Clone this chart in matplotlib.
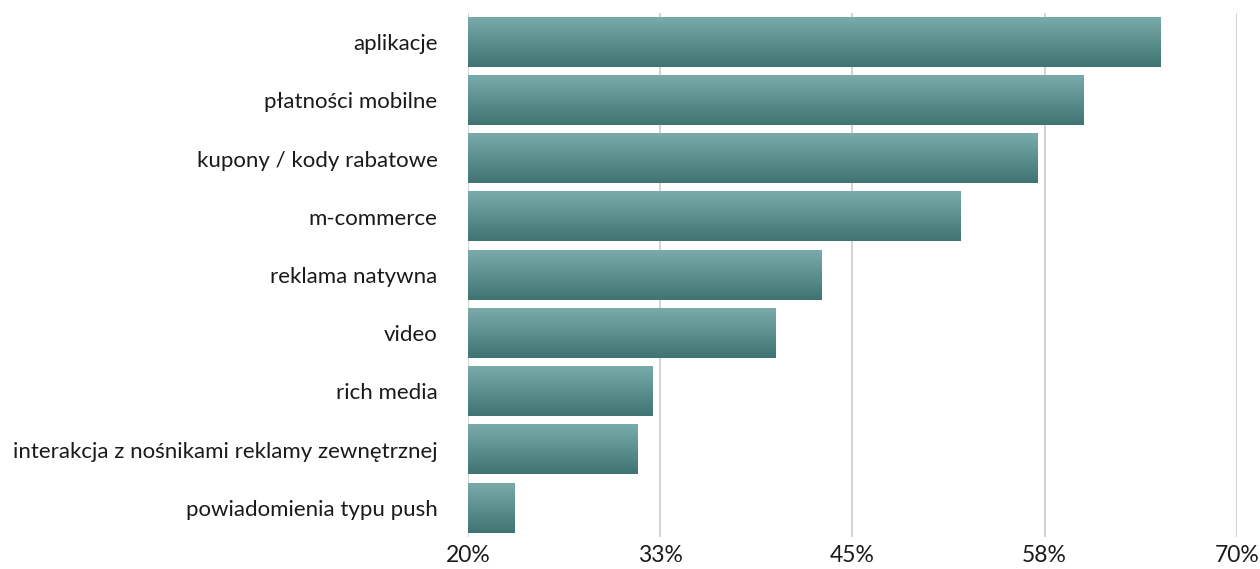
import numpy as np
import matplotlib.pyplot as plt
from matplotlib.colors import LinearSegmentedColormap

# kanały / formaty mobilne i odsetek wskazań
kategorie = ["aplikacje", "płatności mobilne", "kupony / kody rabatowe", "m-commerce",
             "reklama natywna", "video", "rich media",
             "interakcja z nośnikami reklamy zewnętrznej", "powiadomienia typu push"]
wartosci = [65, 60, 57, 52, 43, 40, 32, 31, 23]
ticki = [20, 32.5, 45, 57.5, 70]
etykiety_tickow = ["20%", "33%", "45%", "58%", "70%"]

plt.rcParams['font.family'] = ['Lato', 'DejaVu Sans']

fig = plt.figure(figsize=(12.6, 5.69), dpi=100)
ax = fig.add_axes([0.3714, 0.0562, 0.6103, 0.9208])

# gradient od jasnego (góra) do ciemnego (dół) turkusu
cmap = LinearSegmentedColormap.from_list("teal", ["#79abaa", "#3f7473"])
grad = np.linspace(0, 1, 256).reshape(-1, 1)

y = np.arange(len(kategorie))
bary = ax.barh(y, [w - 20 for w in wartosci], left=20, height=0.845, color="none", zorder=2)
for b in bary:
    x0, y0 = b.get_x(), b.get_y()
    x1, y1 = x0 + b.get_width(), y0 + b.get_height()
    # y rośnie w dół (odwrócona oś), więc góra paska to y0
    ax.imshow(grad, cmap=cmap, aspect="auto", extent=(x0, x1, y1, y0),
              origin="upper", zorder=2, interpolation="bicubic")

ax.set_xlim(20, 70)
ax.set_ylim(len(kategorie) - 0.5, -0.5)
ax.set_yticks(y)
ax.set_yticklabels(kategorie, fontsize=16, color="#1a1a1a")
ax.set_xticks(ticki)
ax.set_xticklabels(etykiety_tickow, fontsize=16.5, color="#1a1a1a")
ax.tick_params(axis="y", length=0, pad=22)
ax.tick_params(axis="x", length=0, pad=6)

ax.grid(axis="x", color="#d4d4d4", linewidth=1.5, zorder=0)
ax.set_axisbelow(True)
for s in ax.spines.values():
    s.set_visible(False)

fig.savefig("out.png", dpi=100)
